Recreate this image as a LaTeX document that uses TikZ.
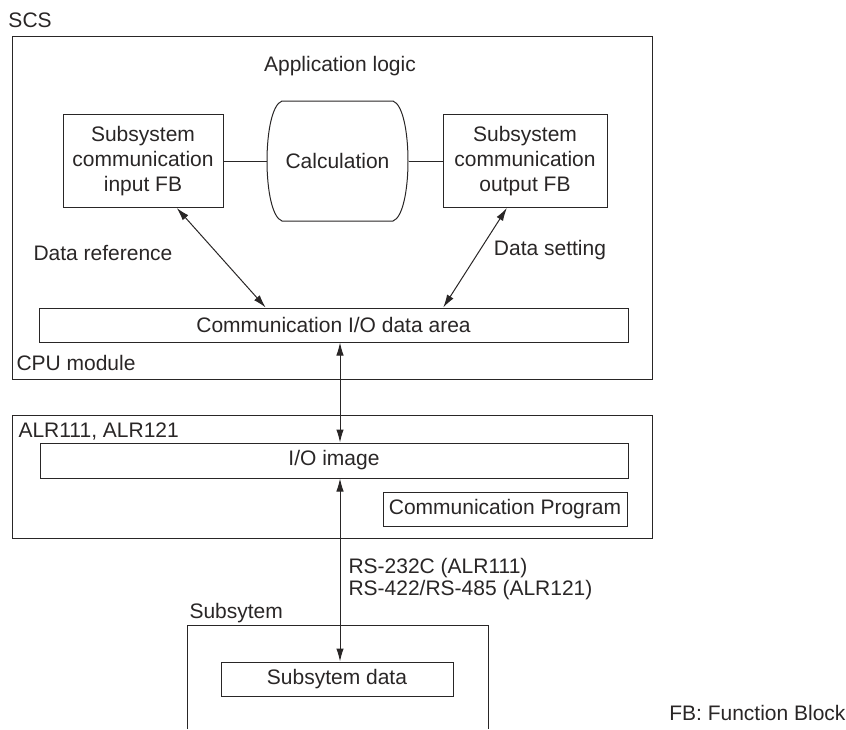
\documentclass[tikz,border=0pt]{standalone}
\usepackage{fontspec}
\setmainfont{Liberation Sans}
\usetikzlibrary{arrows.meta,calc}

\definecolor{InkGray}{rgb}{0.16,0.15,0.15}

\tikzset{
  >={Latex[length=13pt,width=7.5pt]},
  blk/.style={draw,inner sep=0pt},
  lbl/.style={anchor=west,inner sep=0pt},
}

\begin{document}
\begin{tikzpicture}[x=1pt,y=-1pt,line width=1pt,color=InkGray,font=\fontsize{21}{25}\selectfont]
\useasboundingbox (0,0) rectangle (846,729);

% SCS / CPU module
\node[blk,minimum width=640pt,minimum height=343pt] (scs) at (332,207.5) {};
\node[lbl] (scslbl) at (8,20) {SCS};
\node (applbl) at (340,66) {Application logic};
\node[blk,minimum width=160pt,minimum height=93pt,align=center] (infb) at (143,161) {Subsystem\\communication\\input FB};
\node[minimum width=141pt,minimum height=120pt] (calc) at (337.5,161) {Calculation};
\draw (282,101) -- (393,101) .. controls (413,108) and (413,214) .. (393,221) -- (282,221) .. controls (262,214) and (262,108) .. (282,101) -- cycle;
\node[blk,minimum width=164pt,minimum height=93pt,align=center] (outfb) at (525,161) {Subsystem\\communication\\output FB};
\draw (infb.east) -- (calc.west);
\draw (calc.east) -- (outfb.west);

\node[blk,minimum width=589pt,minimum height=34pt] (ioarea) at (333.5,325) {Communication I/O data area};
\draw[<->] ($(infb.south west)!0.71!(infb.south east)$) -- ($(ioarea.north west)!0.385!(ioarea.north east)$);
\draw[<->] ($(outfb.south west)!0.39!(outfb.south east)$) -- ($(ioarea.north west)!0.686!(ioarea.north east)$);
\node (reflbl) at (103,253) {Data reference};
\node (setlbl) at (550,250) {Data setting};
\node[lbl] (cpulbl) at (16,363) {CPU module};

% ALR111 / ALR121
\node[blk,minimum width=640pt,minimum height=123pt] (alr) at (332,476.5) {};
\node[lbl] (alrlbl) at (18,432) {ALR111, ALR121};
\node[blk,minimum width=588pt,minimum height=35pt] (ioimg) at (334,460.5) {I/O image};
\node[blk,minimum width=244pt,minimum height=34pt] (commprog) at (505,509) {Communication Program};

% subsystem
\draw (187,729) |- (488,625) -- (488,729);
\node[lbl] (sublbl) at (189,613) {Subsytem};
\node[blk,minimum width=232pt,minimum height=34pt] (subdata) at (337,679) {Subsytem data};
\node[lbl,align=left,font=\fontsize{21}{22}\selectfont] (rslbl) at (348,579) {RS-232C (ALR111)\\RS-422/RS-485 (ALR121)};
\node[anchor=east,inner sep=0pt] (fblbl) at (846,713) {FB: Function Block};

\coordinate (link) at (340,0);
\draw[<->] (ioarea.south -| link) -- (ioimg.north -| link);
\draw[<->] (ioimg.south -| link) -- (subdata.north -| link);
\end{tikzpicture}
\end{document}
